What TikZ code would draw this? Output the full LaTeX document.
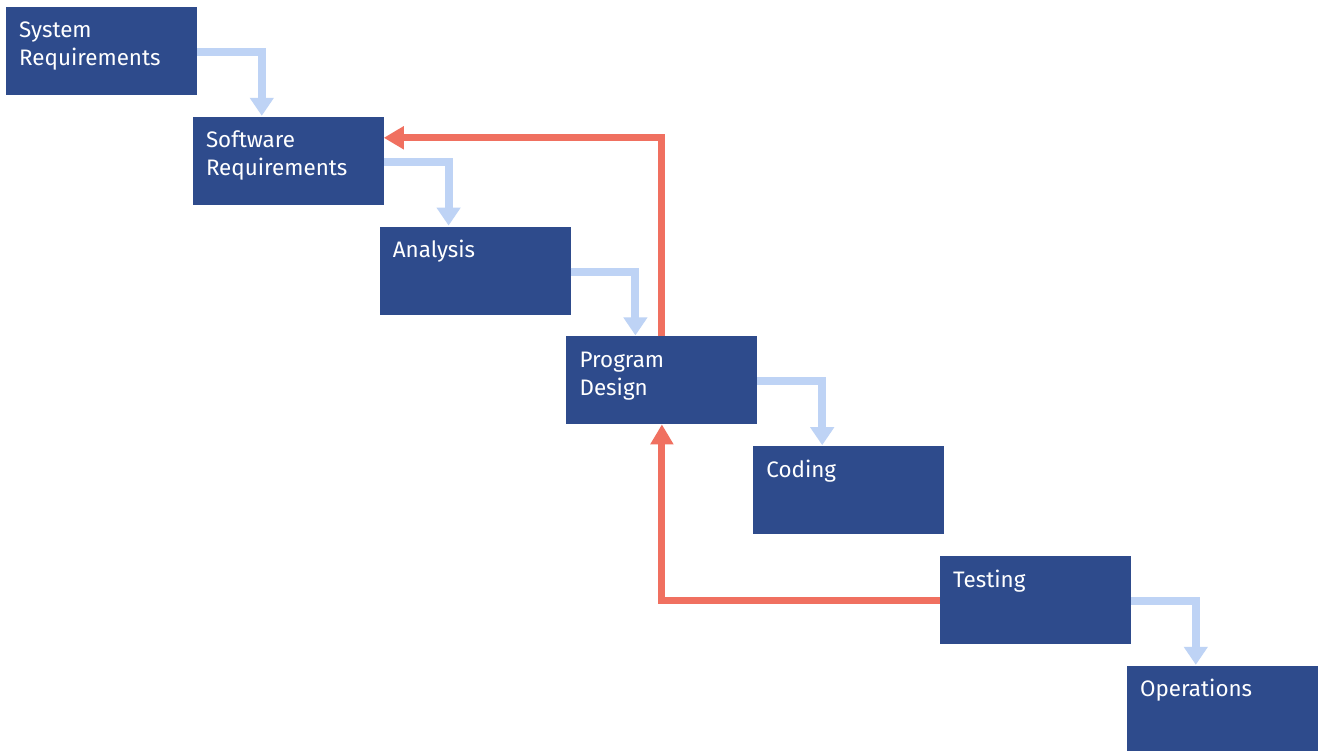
\documentclass[tikz,border=0pt]{standalone}
\usepackage{fontspec}
\setmainfont{Fira Sans}
\usetikzlibrary{arrows.meta,calc}
\definecolor{boxblue}{RGB}{46,75,140}
\definecolor{flowblue}{RGB}{190,211,245}
\definecolor{backred}{RGB}{240,112,96}
\tikzset{
  stage/.style={fill=boxblue, draw=none, minimum width=191pt, minimum height=88pt,
    anchor=north west, inner sep=0pt, outer sep=0pt},
  stagetext/.style={anchor=base west, inner sep=0pt, text=white,
    font=\fontsize{22.4}{28}\selectfont},
  flow/.style={draw=flowblue, line width=8pt, -{Triangle[width=23pt,length=18pt]}},
  back/.style={draw=backred, line width=7pt, -{Triangle[width=22pt,length=20pt]}},
}
\newcommand{\stagelabel}[1]{\parbox[t]{170pt}{\raggedright #1}}
\begin{document}
\begin{tikzpicture}[x=1pt,y=-1pt]
\useasboundingbox (0,0) rectangle (1320,751);
\fill[white] (0,0) rectangle (1320,751);
\node[stage] (b1) at (6,7) {};
\node[stage] (b2) at (192.8,116.8) {};
\node[stage] (b3) at (379.6,226.6) {};
\node[stage] (b4) at (566.4,336.4) {};
\node[stage] (b5) at (753.2,446.2) {};
\node[stage] (b6) at (940,556) {};
\node[stage] (b7) at (1126.8,665.8) {};
\node[stagetext] (t1) at ($(b1.north west)+(13,31)$) {\stagelabel{System\\Requirements}};
\node[stagetext] (t2) at ($(b2.north west)+(13,31)$) {\stagelabel{Software\\Requirements}};
\node[stagetext] (t3) at ($(b3.north west)+(13,31)$) {\stagelabel{Analysis}};
\node[stagetext] (t4) at ($(b4.north west)+(13,31)$) {\stagelabel{Program\\Design}};
\node[stagetext] (t5) at ($(b5.north west)+(13,31)$) {\stagelabel{Coding}};
\node[stagetext] (t6) at ($(b6.north west)+(13,31)$) {\stagelabel{Testing}};
\node[stagetext] (t7) at ($(b7.north west)+(13,31)$) {\stagelabel{Operations}};
\draw[flow] ($(b1.north east)+(0,45)$) -| ($(b2.north west)+(69,-1)$);
\draw[flow] ($(b2.north east)+(0,45)$) -| ($(b3.north west)+(69,-1)$);
\draw[flow] ($(b3.north east)+(0,45)$) -| ($(b4.north west)+(69,-1)$);
\draw[flow] ($(b4.north east)+(0,45)$) -| ($(b5.north west)+(69,-1)$);
\draw[flow] ($(b6.north east)+(0,45)$) -| ($(b7.north west)+(69,-1)$);
\draw[back] (b4.north) |- ($(b2.north east)+(0,21)$);
\draw[back] ($(b6.north west)+(0,44)$) -| (b4.south);
\end{tikzpicture}
\end{document}
